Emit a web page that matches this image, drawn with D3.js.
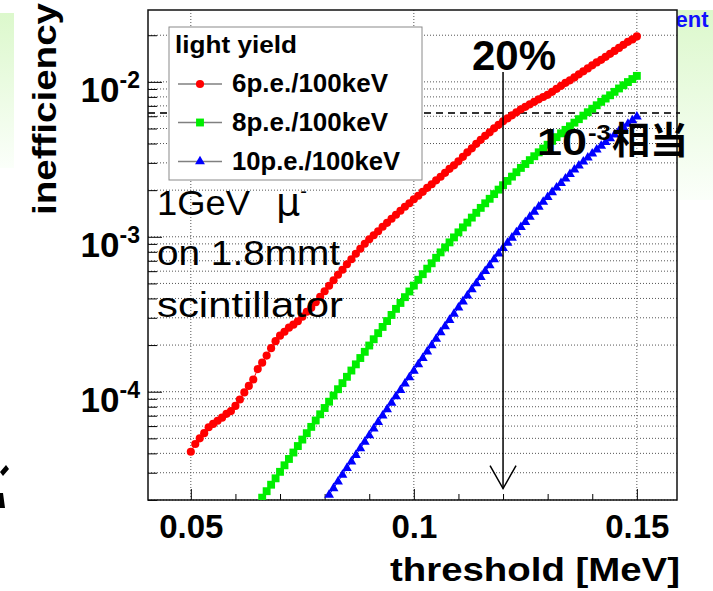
<!DOCTYPE html>
<html>
<head>
<meta charset="utf-8">
<script src="https://cdn.jsdelivr.net/npm/d3@7"></script>
<style>
  body { margin: 0; background: #ffffff; }
  text { font-family: "Liberation Sans", Arial, Helvetica, sans-serif; }
</style>
</head>
<body>
<div id="chart"></div>
<script>
// threshold [MeV], one point every 1 keV
const threshold = [
  0.050, 0.051, 0.052, 0.053, 0.054, 0.055, 0.056, 0.057, 0.058, 0.059,
  0.060, 0.061, 0.062, 0.063, 0.064, 0.065, 0.066, 0.067, 0.068, 0.069,
  0.070, 0.071, 0.072, 0.073, 0.074, 0.075, 0.076, 0.077, 0.078, 0.079,
  0.080, 0.081, 0.082, 0.083, 0.084, 0.085, 0.086, 0.087, 0.088, 0.089,
  0.090, 0.091, 0.092, 0.093, 0.094, 0.095, 0.096, 0.097, 0.098, 0.099,
  0.100, 0.101, 0.102, 0.103, 0.104, 0.105, 0.106, 0.107, 0.108, 0.109,
  0.110, 0.111, 0.112, 0.113, 0.114, 0.115, 0.116, 0.117, 0.118, 0.119,
  0.120, 0.121, 0.122, 0.123, 0.124, 0.125, 0.126, 0.127, 0.128, 0.129,
  0.130, 0.131, 0.132, 0.133, 0.134, 0.135, 0.136, 0.137, 0.138, 0.139,
  0.140, 0.141, 0.142, 0.143, 0.144, 0.145, 0.146, 0.147, 0.148, 0.149,
  0.150
];

// inefficiency, 6 p.e./100keV (from 0.050)
const ineff6 = [
  4.1e-5, 4.6e-5, 5.0e-5, 5.4e-5, 5.9e-5, 6.2e-5, 6.5e-5, 6.8e-5, 7.2e-5, 7.5e-5,
  8.1e-5, 8.9e-5, 9.9e-5, 1.09e-4, 1.20e-4, 1.40e-4, 1.54e-4, 1.71e-4, 1.91e-4, 2.12e-4,
  2.30e-4, 2.44e-4, 2.59e-4, 2.71e-4, 2.85e-4, 3.05e-4, 3.28e-4, 3.48e-4, 3.78e-4, 4.10e-4,
  4.45e-4, 4.83e-4, 5.24e-4, 5.69e-4, 6.13e-4, 6.65e-4, 7.16e-4, 7.77e-4, 8.37e-4, 9.01e-4,
  9.64e-4, 1.023e-3, 1.085e-3, 1.160e-3, 1.231e-3, 1.307e-3, 1.387e-3, 1.472e-3, 1.562e-3, 1.645e-3,
  1.746e-3, 1.839e-3, 1.951e-3, 2.071e-3, 2.182e-3, 2.315e-3, 2.439e-3, 2.588e-3, 2.746e-3, 2.893e-3,
  3.070e-3, 3.282e-3, 3.510e-3, 3.724e-3, 3.981e-3, 4.225e-3, 4.483e-3, 4.723e-3, 5.012e-3, 5.280e-3,
  5.562e-3, 5.814e-3, 6.080e-3, 6.357e-3, 6.646e-3, 6.898e-3, 7.159e-3, 7.430e-3, 7.711e-3, 7.980e-3,
  8.244e-3, 8.620e-3, 9.012e-3, 9.424e-3, 9.852e-3, 1.023e-2, 1.069e-2, 1.118e-2, 1.169e-2, 1.222e-2,
  1.278e-2, 1.336e-2, 1.387e-2, 1.450e-2, 1.516e-2, 1.585e-2, 1.657e-2, 1.733e-2, 1.812e-2, 1.880e-2,
  1.966e-2
];

// 8 p.e./100keV (visible from 0.066)
const ineff8 = [
  2.07e-5, 2.28e-5, 2.51e-5, 2.76e-5, 3.04e-5, 3.35e-5, 3.68e-5, 4.05e-5, 4.46e-5, 4.91e-5,
  5.40e-5, 5.93e-5, 6.52e-5, 7.15e-5, 7.85e-5, 8.62e-5, 9.45e-5, 1.038e-4, 1.136e-4, 1.248e-4,
  1.370e-4, 1.502e-4, 1.650e-4, 1.809e-4, 1.987e-4, 2.181e-4, 2.388e-4, 2.619e-4, 2.858e-4, 3.129e-4,
  3.426e-4, 3.740e-4, 4.077e-4, 4.436e-4, 4.843e-4, 5.280e-4, 5.737e-4, 6.227e-4, 6.745e-4, 7.320e-4,
  7.930e-4, 8.543e-4, 9.203e-4, 9.911e-4, 1.068e-3, 1.150e-3, 1.235e-3, 1.330e-3, 1.428e-3, 1.537e-3,
  1.645e-3, 1.759e-3, 1.886e-3, 2.016e-3, 2.152e-3, 2.294e-3, 2.446e-3, 2.611e-3, 2.783e-3, 2.950e-3,
  3.125e-3, 3.311e-3, 3.510e-3, 3.713e-3, 3.928e-3, 4.163e-3, 4.397e-3, 4.653e-3, 4.901e-3, 5.170e-3,
  5.455e-3, 5.745e-3, 6.053e-3, 6.368e-3, 6.708e-3, 7.063e-3, 7.430e-3, 7.804e-3, 8.195e-3, 8.620e-3,
  9.066e-3, 9.506e-3, 9.970e-3, 1.043e-2, 1.093e-2
];

// 10 p.e./100keV (visible from 0.081)
const ineff10 = [
  2.16e-5, 2.38e-5, 2.63e-5, 2.90e-5, 3.21e-5, 3.54e-5, 3.90e-5, 4.31e-5, 4.74e-5, 5.23e-5,
  5.77e-5, 6.35e-5, 7.00e-5, 7.69e-5, 8.47e-5, 9.31e-5, 1.024e-4, 1.126e-4, 1.237e-4, 1.362e-4,
  1.500e-4, 1.647e-4, 1.812e-4, 1.993e-4, 2.191e-4, 2.413e-4, 2.642e-4, 2.901e-4, 3.177e-4, 3.483e-4,
  3.819e-4, 4.174e-4, 4.577e-4, 5.005e-4, 5.481e-4, 5.990e-4, 6.529e-4, 7.138e-4, 7.780e-4, 8.431e-4,
  9.120e-4, 9.852e-4, 1.066e-3, 1.152e-3, 1.244e-3, 1.344e-3, 1.450e-3, 1.562e-3, 1.677e-3, 1.804e-3,
  1.937e-3, 2.077e-3, 2.221e-3, 2.371e-3, 2.534e-3, 2.710e-3, 2.875e-3, 3.056e-3, 3.238e-3, 3.442e-3,
  3.647e-3, 3.859e-3, 4.083e-3, 4.313e-3, 4.564e-3, 4.821e-3, 5.079e-3, 5.358e-3, 5.643e-3, 5.955e-3
];

const seriesLabels = ['6p.e./100keV', '8p.e./100keV', '10p.e./100keV'];
const seriesColors = ['#ff0000', '#00ee00', '#0000ff'];

// axis setup
const xDomain = [0.0404, 0.159];
const yDomain = [2e-5, 0.0291];
const xMajorTicks = [0.05, 0.1, 0.15];
const xMinorTicks = [0.06, 0.07, 0.08, 0.09, 0.11, 0.12, 0.13, 0.14];
const yMajorTicks = [1e-4, 1e-3, 1e-2];
const yTickLabels = ['-4', '-3', '-2'];

// annotations
const refLevel = 6.3e-3;          // dashed "10^-3 equivalent" level
const arrowAt = 0.12;             // 20% arrow threshold
const arrowTop = 1.16e-2;
const arrowBottom = 2.37e-5;

// frame in pixels
const frame = { left: 148, right: 677, top: 10, bottom: 500 };

let svg = d3.select('#chart')
  .append('svg')
  .attr('width', 713)
  .attr('height', 591);

let x = d3.scaleLinear().domain(xDomain).range([frame.left, frame.right]);
let y = d3.scaleLog().domain(yDomain).range([frame.bottom, frame.top]);

let defs = svg.append('defs');
let grad = defs.append('linearGradient')
  .attr('id', 'greenFade').attr('x1', 0).attr('y1', 0).attr('x2', 0).attr('y2', 1);
grad.append('stop').attr('offset', '0%').attr('stop-color', '#dcf8cc');
grad.append('stop').attr('offset', '100%').attr('stop-color', '#fbfffa');
defs.append('clipPath').attr('id', 'frameClip')
  .append('rect')
  .attr('x', frame.left).attr('y', frame.top)
  .attr('width', frame.right - frame.left).attr('height', frame.bottom - frame.top);

// slide background bits
svg.append('rect').attr('x', 0).attr('y', 13).attr('width', 14).attr('height', 155)
  .attr('fill', 'url(#greenFade)');
svg.append('rect').attr('x', 677).attr('y', 10).attr('width', 36).attr('height', 190)
  .attr('fill', 'url(#greenFade)');
svg.append('text').attr('x', 656).attr('y', 27)
  .style('font-weight', 'bold').style('font-size', '22px').attr('fill', '#1010ff')
  .text('ment');
// cropped glyph stroke at the left slide edge
svg.append('path')
  .attr('d', 'M0,472 L6,465 L9,469 L3,476 Z M0,493 L3,493 L5,508 L0,508 Z')
  .attr('fill', '#000');

// frame background
svg.append('rect')
  .attr('x', frame.left).attr('y', frame.top)
  .attr('width', frame.right - frame.left).attr('height', frame.bottom - frame.top)
  .attr('fill', '#ffffff');

// grid lines
svg.append('g').selectAll('line')
  .data(y.ticks())
  .enter().append('line')
  .attr('x1', frame.left).attr('x2', frame.right)
  .attr('y1', d => y(d)).attr('y2', d => y(d))
  .attr('stroke', '#555').attr('stroke-width', 1).attr('stroke-dasharray', '1 2');
svg.append('g').selectAll('line')
  .data(xMajorTicks)
  .enter().append('line')
  .attr('x1', d => x(d)).attr('x2', d => x(d))
  .attr('y1', frame.top).attr('y2', frame.bottom)
  .attr('stroke', '#555').attr('stroke-width', 1).attr('stroke-dasharray', '1 2');

// dashed reference level
svg.append('line')
  .attr('x1', frame.left).attr('x2', frame.right + 3)
  .attr('y1', y(refLevel)).attr('y2', y(refLevel))
  .attr('stroke', '#333').attr('stroke-width', 2).attr('stroke-dasharray', '7 5');

// axes ticks (inside the frame)
svg.append('g')
  .attr('transform', `translate(0, ${frame.bottom})`)
  .call(d3.axisBottom(x).tickValues(xMinorTicks).tickSize(-6).tickSizeOuter(0).tickFormat(''))
  .call(g => g.select('.domain').remove());
let xAxis = svg.append('g')
  .attr('transform', `translate(0, ${frame.bottom})`)
  .call(d3.axisBottom(x).tickValues(xMajorTicks).tickSize(-11).tickSizeOuter(0)
    .tickPadding(15).tickFormat(d3.format('~g')));
xAxis.select('.domain').remove();
xAxis.selectAll('text')
  .attr('fill', '#000')
  .style('font-family', '"Liberation Sans", Arial, sans-serif')
  .style('font-weight', 'bold').style('font-size', '33px');

svg.append('g')
  .attr('transform', `translate(${frame.left}, 0)`)
  .call(d3.axisLeft(y).tickValues(y.ticks().filter(d => !yMajorTicks.includes(d)))
    .tickSize(-9).tickSizeOuter(0).tickFormat(''))
  .call(g => g.select('.domain').remove());
svg.append('g')
  .attr('transform', `translate(${frame.left}, 0)`)
  .call(d3.axisLeft(y).tickValues(yMajorTicks).tickSize(-14).tickSizeOuter(0).tickFormat(''))
  .call(g => g.select('.domain').remove());

// y labels 10^n
let yLab = svg.append('g').selectAll('text')
  .data(yMajorTicks)
  .enter().append('text')
  .attr('x', 140)
  .attr('y', d => y(d) + 20)
  .attr('text-anchor', 'end')
  .style('font-weight', 'bold');
yLab.append('tspan').style('font-size', '35px').text('10');
yLab.append('tspan').style('font-size', '23px').attr('dy', -14)
  .text((d, i) => yTickLabels[i]);

// frame border
svg.append('rect')
  .attr('x', frame.left).attr('y', frame.top)
  .attr('width', frame.right - frame.left).attr('height', frame.bottom - frame.top)
  .attr('fill', 'none').attr('stroke', '#111').attr('stroke-width', 1.5);

// data
let series = [
  { label: seriesLabels[0], color: seriesColors[0], shape: d3.symbolCircle, size: 52,
    points: ineff6.map((v, i) => ({ t: threshold[i], v: v })) },
  { label: seriesLabels[1], color: seriesColors[1], shape: d3.symbolSquare, size: 62,
    points: ineff8.map((v, i) => ({ t: threshold[i + 16], v: v })) },
  { label: seriesLabels[2], color: seriesColors[2], shape: d3.symbolTriangle, size: 42,
    points: ineff10.map((v, i) => ({ t: threshold[i + 31], v: v })) }
];

let plot = svg.append('g').attr('clip-path', 'url(#frameClip)');
let line = d3.line().x(d => x(d.t)).y(d => y(d.v));
series.forEach(s => {
  plot.append('path')
    .datum(s.points)
    .attr('d', line)
    .attr('fill', 'none').attr('stroke', s.color).attr('stroke-width', 1);
  plot.append('g').selectAll('path')
    .data(s.points)
    .enter().append('path')
    .attr('transform', d => `translate(${x(d.t)}, ${y(d.v)})`)
    .attr('d', d3.symbol().type(s.shape).size(s.size))
    .attr('fill', s.color);
});

// legend
let legend = svg.append('g');
legend.append('rect')
  .attr('x', 169).attr('y', 27).attr('width', 253).attr('height', 153)
  .attr('fill', '#fff').attr('stroke', '#8a8a8a').attr('stroke-width', 1);
legend.append('text')
  .attr('x', 175).attr('y', 53)
  .style('font-weight', 'bold').style('font-size', '24px')
  .attr('textLength', 122).attr('lengthAdjust', 'spacingAndGlyphs')
  .text('light yield');
let legendY = [84, 122.5, 161.5];
let legendW = [156, 156, 168];
series.forEach((s, i) => {
  legend.append('line')
    .attr('x1', 178).attr('x2', 222).attr('y1', legendY[i]).attr('y2', legendY[i])
    .attr('stroke', '#808080').attr('stroke-width', 1.5);
  legend.append('path')
    .attr('transform', `translate(200, ${legendY[i]})`)
    .attr('d', d3.symbol().type(s.shape).size(s.size))
    .attr('fill', s.color);
  legend.append('text')
    .attr('x', 232).attr('y', legendY[i] + 8)
    .style('font-weight', 'bold').style('font-size', '25px')
    .attr('textLength', legendW[i]).attr('lengthAdjust', 'spacingAndGlyphs')
    .text(s.label);
});

// 20% arrow
let ax = x(arrowAt);
let ay = y(arrowBottom);
svg.append('line')
  .attr('x1', ax).attr('x2', ax).attr('y1', y(arrowTop)).attr('y2', ay)
  .attr('stroke', '#000').attr('stroke-width', 1.5);
svg.append('path')
  .attr('d', `M${ax - 13},${ay - 23} L${ax},${ay} L${ax + 13},${ay - 23}`)
  .attr('fill', 'none').attr('stroke', '#000').attr('stroke-width', 1.5);
svg.append('text')
  .attr('x', 514).attr('y', 70).attr('text-anchor', 'middle')
  .style('font-weight', 'bold').style('font-size', '42px')
  .text('20%');

// 10^-3 equivalent label
svg.append('text')
  .attr('x', 537).attr('y', 155)
  .style('font-weight', 'bold').style('font-size', '37px')
  .attr('textLength', 50).attr('lengthAdjust', 'spacingAndGlyphs')
  .text('10');
svg.append('text')
  .attr('x', 588).attr('y', 140)
  .style('font-weight', 'bold').style('font-size', '22px')
  .attr('textLength', 23).attr('lengthAdjust', 'spacingAndGlyphs')
  .text('-3');
svg.append('text')
  .attr('x', 612).attr('y', 154)
  .style('font-family', '"Noto Sans CJK JP", sans-serif')
  .style('font-weight', 'bold').style('font-size', '37px')
  .attr('textLength', 76).attr('lengthAdjust', 'spacingAndGlyphs')
  .text('相当');

// beam / detector note
svg.append('text')
  .attr('x', 157).attr('y', 215).style('font-size', '35px')
  .attr('textLength', 93).attr('lengthAdjust', 'spacingAndGlyphs')
  .text('1GeV');
let muon = svg.append('text')
  .attr('x', 276).attr('y', 215);
muon.append('tspan').style('font-size', '38px')
  .style('font-family', '"DejaVu Sans", sans-serif')
  .text('μ');
muon.append('tspan').style('font-size', '20px').attr('dy', -17)
  .text('-');
svg.append('text')
  .attr('x', 157).attr('y', 265).style('font-size', '35px')
  .attr('textLength', 183).attr('lengthAdjust', 'spacingAndGlyphs')
  .text('on 1.8mmt');
svg.append('text')
  .attr('x', 157).attr('y', 317).style('font-size', '35px')
  .attr('textLength', 186).attr('lengthAdjust', 'spacingAndGlyphs')
  .text('scintillator');

// axis titles
svg.append('text')
  .attr('x', 680).attr('y', 581).attr('text-anchor', 'end')
  .style('font-weight', 'bold').style('font-size', '34px')
  .attr('textLength', 290).attr('lengthAdjust', 'spacingAndGlyphs')
  .text('threshold [MeV]');
svg.append('text')
  .attr('transform', 'translate(56, 215) rotate(-90)')
  .style('font-weight', 'bold').style('font-size', '34px')
  .attr('textLength', 212).attr('lengthAdjust', 'spacingAndGlyphs')
  .text('inefficiency');
</script>
</body>
</html>
